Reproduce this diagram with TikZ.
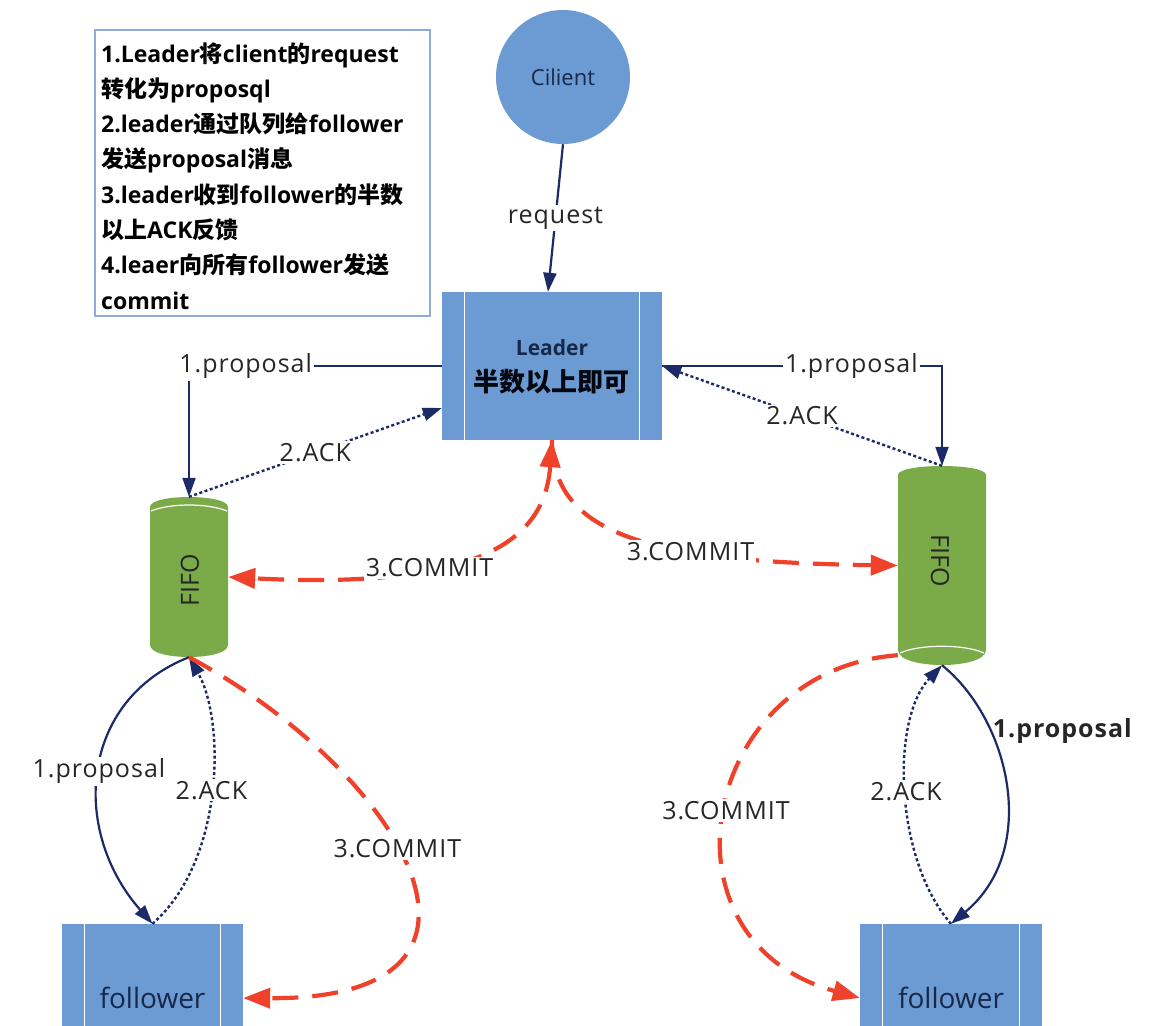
\documentclass[tikz,border=0pt]{standalone}
\usepackage{fontspec}
\setmainfont{Open Sans}
\newfontfamily\lblf{Open Sans}[LetterSpace=4]
\newfontfamily\cjk{Noto Sans CJK SC}
\newcommand{\zh}[1]{{\cjk #1}}
\usetikzlibrary{arrows.meta,calc}
\definecolor{boxblue}{HTML}{6B9BD2}
\definecolor{fifogreen}{HTML}{7BAA48}
\definecolor{navy}{HTML}{1C2A68}
\definecolor{cred}{HTML}{F0412B}
\definecolor{frameblue}{HTML}{8FAADC}
\definecolor{txtnavy}{HTML}{17284A}
\begin{document}
\begin{tikzpicture}[x=1pt,y=-1pt,
  proc/.style={rectangle, fill=boxblue, inner sep=0pt, text=txtnavy,
    path picture={\draw[white, line width=1.6pt]
      ([xshift=22.5pt]path picture bounding box.north west) -- ([xshift=22.5pt]path picture bounding box.south west)
      ([xshift=-22.5pt]path picture bounding box.north east) -- ([xshift=-22.5pt]path picture bounding box.south east);}},
  navytip/.style={-{Triangle[length=19pt,width=13pt]}},
  prop/.style={draw=navy, line width=2.2pt, navytip},
  ack/.style={draw=navy, line width=2.4pt, dash pattern=on 3pt off 2.5pt, navytip},
  redtip/.style={Triangle[length=27pt,width=20pt]},
  commit/.style={draw=cred, line width=4.2pt, dash pattern=on 26pt off 14pt, -{Triangle[length=27pt,width=20pt]}},
  lbl/.style={fill=white, inner sep=2pt, text=black!85, font=\lblf\fontsize{25}{30}\selectfont},
  notetxt/.style={anchor=base west, inner sep=0pt, font=\bfseries\fontsize{23}{28}\selectfont},
]
\fill[white] (0,0) rectangle (1152,1026);
\useasboundingbox (0,0) rectangle (1152,1026);

% notes box
\node[draw=frameblue, line width=1.5pt, minimum width=335pt, minimum height=286pt, inner sep=0pt] (notes) at (262.5,173) {};
\node[notetxt] (n1) at (101,62) {1.Leader\zh{将}client\zh{的}request};
\node[notetxt] (n2) at (101,97.3) {\zh{转化为}proposql};
\node[notetxt] (n3) at (101,132.6) {2.leader\zh{通过队列给}follower};
\node[notetxt] (n4) at (101,167.9) {\zh{发送}proposal\zh{消息}};
\node[notetxt] (n5) at (101,203.2) {3.leader\zh{收到}follower\zh{的半数}};
\node[notetxt] (n6) at (101,238.5) {\zh{以上}ACK\zh{反馈}};
\node[notetxt] (n7) at (101,273.8) {4.leaer\zh{向所有}follower\zh{发送}};
\node[notetxt] (n8) at (101,309.1) {commit};

% client
\node[circle, fill=boxblue, minimum size=134pt, inner sep=0pt, text=txtnavy, font=\fontsize{22}{26}\selectfont] (client) at (563,77) {Cilient};

% leader
\node[proc, minimum width=220pt, minimum height=148pt] (leader) at (552,366) {};
\node[text=txtnavy, font=\bfseries\fontsize{21}{25}\selectfont] (ldr1) at (552,348) {Leader};
\node[text=black!85!navy, font=\cjk\bfseries\fontsize{26}{30}\selectfont] (ldr2) at (551,382) {半数以上即可};

% left FIFO
\node[minimum width=78pt, minimum height=160pt, inner sep=0pt] (lfifo) at (189,577) {};
\fill[fifogreen] (150,507) .. controls (150,493.7) and (228,493.7) .. (228,507) -- (228,645)
  .. controls (228,661) and (150,661) .. (150,645) -- cycle;
\draw[white, line width=1.2pt] (151,511) .. controls (170,503) and (208,503) .. (227,511);
\node[rotate=90, text=black!85, font=\fontsize{25}{30}\selectfont] (lfifotxt) at (190,580) {FIFO};

% right FIFO
\node[minimum width=88pt, minimum height=199pt, inner sep=0pt] (rfifo) at (942,565.5) {};
\fill[fifogreen] (898,475) .. controls (898,463) and (986,463) .. (986,475) -- (986,650)
  .. controls (986,670) and (898,670) .. (898,650) -- cycle;
\draw[white, line width=1.2pt] (900,653) .. controls (920,644) and (964,644) .. (984,653);
\node[rotate=-90, text=black!85, font=\fontsize{25}{30}\selectfont] (rfifotxt) at (940,561) {FIFO};

% followers
\node[proc, minimum width=181pt, minimum height=148pt, font=\fontsize{28}{32}\selectfont] (lfol) at (152.5,998) {follower};
\node[proc, minimum width=182pt, minimum height=148pt, font=\fontsize{28}{32}\selectfont] (rfol) at (951,998) {follower};

% top connectors
\draw[prop] (client.south) -- node[lbl] {request} ($(leader.north)+(-4,0)$);
\draw[prop] (leader.west) -| node[lbl, pos=0.388] {1.proposal} (lfifo.north);
\draw[prop] (leader.east) -| node[lbl, pos=0.338] {1.proposal} (rfifo.north);
\draw[ack] (lfifo.north) -- node[lbl] {2.ACK} ($(leader.west)+(0,42)$);
\draw[ack] (rfifo.north) -- node[lbl] {2.ACK} (leader.east);

% commits from leader
\draw[commit, {Triangle[length=27pt,width=20pt]}-{Triangle[length=27pt,width=20pt]}]
  (leader.south) .. controls (545,540) and (480,590) .. node[lbl, pos=0.65] {3.COMMIT} (lfifo.east);
\draw[commit] (leader.south) .. controls (552,535) and (650,562) .. node[lbl, pos=0.65] {3.COMMIT} (rfifo.west);

% lower left
\draw[prop] (lfifo.south) .. controls (80,700) and (70,830) .. node[lbl] {1.proposal} (lfol.north);
\draw[ack] (lfol.north) .. controls (225,860) and (225,720) .. node[lbl] {2.ACK} (lfifo.south);
\draw[commit] (lfifo.south) .. controls (400,770) and (540,1000) .. node[lbl, pos=0.45] {3.COMMIT} (lfol.east);

% lower right
\draw[prop] (rfifo.south) .. controls (1010,720) and (1040,850) ..
  node[pos=0.3, anchor=west, inner sep=1pt, text=black!85, font=\lblf\bfseries\fontsize{25}{30}\selectfont] {1.proposal} (rfol.north);
\draw[ack] (rfol.north) .. controls (895,860) and (890,720) .. node[lbl] {2.ACK} (rfifo.south);
\draw[commit] ($(rfifo.south west)+(0,-10)$) .. controls (700,670) and (650,940) .. node[lbl] {3.COMMIT} (rfol.west);
\end{tikzpicture}
\end{document}
